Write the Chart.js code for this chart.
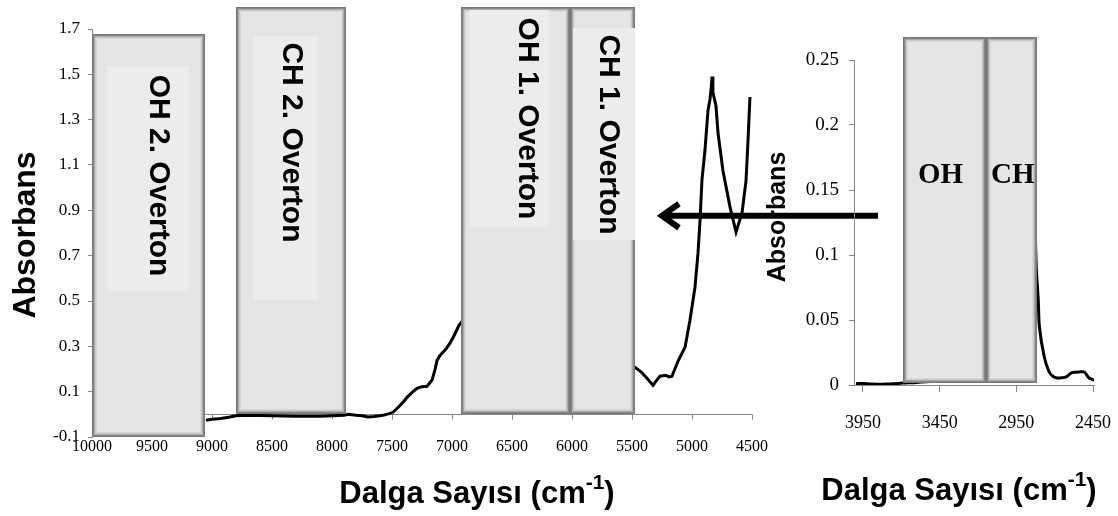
<!DOCTYPE html>
<html><head><meta charset="utf-8">
<script src="https://cdn.jsdelivr.net/npm/chart.js@4"></script>
<style>
html,body{margin:0;padding:0;background:#fff;}
#wrap{position:relative;width:1118px;height:516px;overflow:hidden;}
canvas{position:absolute;left:0;top:0;}
</style></head><body>
<div id="wrap"><canvas id="main" width="1118" height="516"></canvas><canvas id="inset" width="1118" height="516"></canvas></div>
<script>
// ---------- DATA ----------
const mainWavenumbers = [9050,9000,8950,8900,8850,8800,8700,8500,8300,8100,7900,7867,7800,7750,7700,7650,7600,7575,7530,7492,7450,7400,7375,7330,7292,7250,7208,7167,7140,7125,7100,7075,7045,7017,6980,6942,6900,6800,6600,6400,6200,6000,5800,5600,5520,5475,5420,5375,5325,5295,5267,5220,5190,5167,5117,5058,5017,4975,4950,4933,4917,4892,4867,4850,4840,4833,4826,4817,4800,4783,4742,4683,4633,4583,4550,4533,4517];
const mainAbsorbance = [-0.026,-0.022,-0.020,-0.016,-0.012,-0.006,-0.004,-0.006,-0.008,-0.008,-0.004,0.000,-0.004,-0.006,-0.012,-0.010,-0.006,-0.004,0.002,0.009,0.030,0.058,0.075,0.098,0.115,0.122,0.124,0.150,0.200,0.238,0.260,0.274,0.292,0.314,0.350,0.393,0.420,0.450,0.400,0.330,0.280,0.260,0.250,0.230,0.215,0.207,0.185,0.159,0.128,0.150,0.168,0.172,0.165,0.168,0.234,0.296,0.415,0.561,0.711,0.856,1.033,1.165,1.340,1.390,1.440,1.490,1.420,1.400,1.360,1.240,1.075,0.914,0.804,0.890,1.030,1.210,1.400];
const mainXTicks = [10000,9500,9000,8500,8000,7500,7000,6500,6000,5500,5000,4500];
const mainYTicks = [-0.1,0.1,0.3,0.5,0.7,0.9,1.1,1.3,1.5,1.7];

const insetWavenumbers = [3995,3950,3900,3840,3780,3720,3690,3600,3400,3200,3000,2950,2920,2880,2850,2820,2807,2800,2768,2736,2710,2684,2655,2625,2593,2565,2541,2508,2476,2443];
const insetAbsorbance = [0.001,0.0012,0.0008,0.0005,0.0008,0.0012,0.0015,0.002,0.004,0.008,0.030,0.120,0.220,0.150,0.200,0.090,0.065,0.045,0.0215,0.010,0.0065,0.0054,0.0055,0.0062,0.0092,0.0098,0.010,0.010,0.0054,0.0038];
const insetXTicks = [3950,3450,2950,2450];
const insetYTicks = [0,0.05,0.1,0.15,0.2,0.25];

const mainRegionLabels = ['OH 2. Overton','CH 2. Overton','OH 1. Overton','CH 1. Overton'];
const mainRegionFrom = [10000,8800,6925,6015];
const mainRegionTo = [9060,7880,6015,5475];
const mainRegionTop = [1.68,1.795,1.795,1.795];
const mainRegionBottom = [-0.1,0,0,0];

const insetRegionLabels = ['OH','CH'];
const insetRegionFrom = [3690,3145];
const insetRegionTo = [3145,2814];
const insetRegionTop = [0.268,0.268];
const insetRegionBottom = [0.0015,0.0015];

const yTitle = 'Absorbans';
const xTitleMain = 'Dalga Sayısı (cm';
const xTitleSup = '-1';
const xTitleEnd = ')';

// ---------- STYLE / LAYOUT ----------
const AXIS = '#868686';
const SANS = '"Liberation Sans", Arial, sans-serif';
const SERIF = '"Liberation Serif", "Times New Roman", serif';
// text placement inside boxes: [dx from box centre, centre y offset from box top]
const mainTextPos = [[10,142],[0,135],[12,111],[6,127]];
const mainTextRect = [[15,32,82,225],[18,29,64,264],[8,3,80,217],[3,21,62,212]];

function drawBox(ctx, x1, y1, x2, y2) {
  const w = x2 - x1, h = y2 - y1;
  ctx.save();
  ctx.fillStyle = '#e5e5e5';
  ctx.fillRect(x1, y1, w, h);
  const rings = ['#787878','#878787','#a9a9a9','#cacaca','#d8d8d8'];
  ctx.lineWidth = 1;
  rings.forEach((c, i) => {
    ctx.strokeStyle = c;
    ctx.strokeRect(x1 + i + 0.5, y1 + i + 0.5, w - 2*i - 1, h - 2*i - 1);
  });
  ctx.restore();
}

function drawAxisTitleX(ctx, cx, baseY) {
  ctx.save();
  ctx.fillStyle = '#000';
  ctx.textBaseline = 'alphabetic';
  ctx.textAlign = 'left';
  const big = 'bold 31px ' + SANS, small = 'bold 21px ' + SANS;
  ctx.font = big; const w1 = ctx.measureText(xTitleMain).width; const w3 = ctx.measureText(xTitleEnd).width;
  ctx.font = small; const w2 = ctx.measureText(xTitleSup).width;
  let x = cx - (w1 + w2 + w3) / 2;
  ctx.font = big; ctx.fillText(xTitleMain, x, baseY); x += w1;
  ctx.font = small; ctx.fillText(xTitleSup, x, baseY - 14); x += w2;
  ctx.font = big; ctx.fillText(xTitleEnd, x, baseY);
  ctx.restore();
}

function drawAxisTitleY(ctx, baseX, cy, size) {
  ctx.save();
  ctx.translate(baseX, cy);
  ctx.rotate(-Math.PI / 2);
  ctx.fillStyle = '#000';
  ctx.font = 'bold ' + size + 'px ' + SANS;
  ctx.textAlign = 'center';
  ctx.textBaseline = 'alphabetic';
  ctx.fillText(yTitle, 0, 0);
  ctx.restore();
}

const noSidePadding = s => { s.paddingLeft = 0; s.paddingRight = 0; };

const mainPlugin = {
  id: 'mainDecor',
  beforeDatasetsDraw(chart) {
    const {ctx, chartArea, scales: {x, y}} = chart;
    const y0 = Math.round(y.getPixelForValue(0)) + 0.5;
    ctx.save();
    ctx.strokeStyle = AXIS; ctx.lineWidth = 1;
    ctx.beginPath();
    ctx.moveTo(chartArea.left, y0); ctx.lineTo(chartArea.right, y0);
    mainXTicks.forEach(v => {
      const px = Math.round(x.getPixelForValue(v)) + 0.5;
      ctx.moveTo(px, y0); ctx.lineTo(px, y0 + 5);
    });
    ctx.stroke();
    ctx.restore();
  },
  afterDatasetsDraw(chart) {
    const {ctx, scales: {x, y}} = chart;
    mainRegionLabels.forEach((label, i) => {
      const x1 = Math.round(x.getPixelForValue(mainRegionFrom[i]));
      const x2 = Math.round(x.getPixelForValue(mainRegionTo[i]));
      const y1 = Math.round(y.getPixelForValue(mainRegionTop[i]));
      const y2 = Math.round(y.getPixelForValue(mainRegionBottom[i]));
      drawBox(ctx, x1, y1, x2, y2);
      const r = mainTextRect[i];
      ctx.fillStyle = '#ececec';
      ctx.fillRect(x1 + r[0], y1 + r[1], r[2], r[3]);
    });
    mainRegionLabels.forEach((label, i) => {
      const x1 = x.getPixelForValue(mainRegionFrom[i]);
      const x2 = x.getPixelForValue(mainRegionTo[i]);
      const y1 = y.getPixelForValue(mainRegionTop[i]);
      ctx.save();
      ctx.translate((x1 + x2) / 2 + mainTextPos[i][0], y1 + mainTextPos[i][1]);
      ctx.rotate(Math.PI / 2);
      ctx.fillStyle = '#000';
      ctx.font = 'bold 30px ' + SANS;
      ctx.textAlign = 'center';
      ctx.textBaseline = 'middle';
      ctx.fillText(label, 0, 0);
      ctx.restore();
    });
  },
  afterDraw(chart) {
    const {ctx, scales: {x, y}} = chart;
    // arrow pointing from inset to main spectrum
    const ay = y.getPixelForValue(0.876);
    const tip = x.getPixelForValue(5267), tail = x.getPixelForValue(3450);
    ctx.save();
    ctx.strokeStyle = '#000'; ctx.lineWidth = 6; ctx.lineJoin = 'miter'; ctx.lineCap = 'butt';
    ctx.beginPath(); ctx.moveTo(tail, ay); ctx.lineTo(tip + 3, ay); ctx.stroke();
    ctx.beginPath(); ctx.moveTo(tip + 19, ay - 12); ctx.lineTo(tip + 2, ay); ctx.lineTo(tip + 19, ay + 12); ctx.stroke();
    ctx.restore();
    drawAxisTitleY(ctx, 35, 235, 32);
    drawAxisTitleX(ctx, 477, 503);
  }
};

const insetPlugin = {
  id: 'insetDecor',
  afterDatasetsDraw(chart) {
    const {ctx, scales: {x, y}} = chart;
    insetRegionLabels.forEach((label, i) => {
      const x1 = Math.round(x.getPixelForValue(insetRegionFrom[i]));
      const x2 = Math.round(x.getPixelForValue(insetRegionTo[i]));
      const y1 = Math.round(y.getPixelForValue(insetRegionTop[i]));
      const y2 = Math.round(y.getPixelForValue(insetRegionBottom[i]));
      drawBox(ctx, x1, y1, x2, y2);
    });
    insetRegionLabels.forEach((label, i) => {
      const x1 = x.getPixelForValue(insetRegionFrom[i]);
      const x2 = x.getPixelForValue(insetRegionTo[i]);
      ctx.save();
      ctx.fillStyle = '#000';
      ctx.font = 'bold 29px ' + SERIF;
      ctx.textAlign = 'center';
      ctx.textBaseline = 'middle';
      ctx.fillText(label, (x1 + x2) / 2 + (i === 0 ? -4 : 1), 176);
      ctx.restore();
    });
  },
  afterDraw(chart) {
    const {ctx} = chart;
    drawAxisTitleY(ctx, 785, 217, 25);
    drawAxisTitleX(ctx, 959, 500);
  }
};

Chart.defaults.font.family = SERIF;
Chart.defaults.color = '#000';

new Chart(document.getElementById('main'), {
  type: 'line',
  data: { datasets: [{
    data: mainWavenumbers.map((w, i) => ({x: w, y: mainAbsorbance[i]})),
    borderColor: '#000', borderWidth: 3, pointRadius: 0, tension: 0, fill: false
  }]},
  options: {
    responsive: false, animation: false, events: [],
    layout: { padding: { left: 0, right: 366, top: 29, bottom: 0 } },
    plugins: { legend: { display: false }, tooltip: { enabled: false } },
    scales: {
      x: {
        type: 'linear', reverse: true, min: 4500, max: 10000,
        afterBuildTicks: s => { s.ticks = mainXTicks.map(v => ({value: v})); },
        afterFit: s => { s.height = 79; noSidePadding(s); },
        border: { display: false },
        grid: { display: false, drawTicks: false },
        ticks: { font: { size: 16 }, color: '#000', padding: 0, maxRotation: 0, autoSkip: false, callback: v => String(v) }
      },
      y: {
        type: 'linear', min: -0.1, max: 1.7,
        afterBuildTicks: s => { s.ticks = mainYTicks.map(v => ({value: v})); },
        afterFit: s => { s.width = 92; },
        border: { display: true, color: AXIS, width: 1 },
        grid: { drawOnChartArea: false, drawTicks: true, tickLength: 4, color: AXIS },
        ticks: { font: { size: 17 }, color: '#000', padding: 8, callback: v => v.toFixed(1) }
      }
    }
  },
  plugins: [mainPlugin]
});

new Chart(document.getElementById('inset'), {
  type: 'line',
  data: { datasets: [{
    data: insetWavenumbers.map((w, i) => ({x: w, y: insetAbsorbance[i]})),
    borderColor: '#000', borderWidth: 3, pointRadius: 0, tension: 0.3, fill: false
  }]},
  options: {
    responsive: false, animation: false, events: [],
    layout: { padding: { left: 794, right: 24, top: 60, bottom: 0 } },
    plugins: { legend: { display: false }, tooltip: { enabled: false } },
    scales: {
      x: {
        type: 'linear', reverse: true, min: 2444, max: 4008,
        afterBuildTicks: s => { s.ticks = insetXTicks.map(v => ({value: v})); },
        afterFit: s => { s.height = 131; noSidePadding(s); },
        border: { display: true, color: AXIS, width: 1 },
        grid: { drawOnChartArea: false, drawTicks: true, tickLength: 7, color: AXIS },
        ticks: { font: { size: 18 }, color: '#000', padding: 20, maxRotation: 0, autoSkip: false, callback: v => String(v) }
      },
      y: {
        type: 'linear', min: 0, max: 0.25,
        afterBuildTicks: s => { s.ticks = insetYTicks.map(v => ({value: v})); },
        afterFit: s => { s.width = 60; },
        border: { display: true, color: AXIS, width: 1 },
        grid: { drawOnChartArea: false, drawTicks: true, tickLength: 5, color: AXIS },
        ticks: { font: { size: 19 }, color: '#000', padding: 10, callback: v => String(v) }
      }
    }
  },
  plugins: [insetPlugin]
});
</script>
</body></html>
